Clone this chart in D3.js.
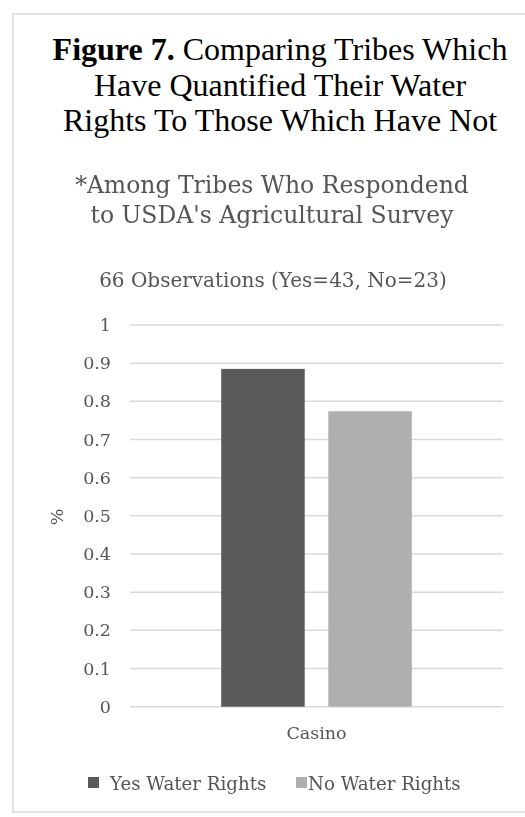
<!DOCTYPE html>
<html>
<head>
<meta charset="utf-8">
<script src="https://cdn.jsdelivr.net/npm/d3@7"></script>
<style>
  html, body { margin: 0; padding: 0; background: #fff; }
  svg { display: block; }
  svg text { font-family: "Liberation Serif", "Times New Roman", serif; }
  svg .body-text text, svg text.body-text { font-family: "DejaVu Serif", "Liberation Serif", serif; }
</style>
</head>
<body>
<svg id="chart" width="525" height="817"></svg>
<script>
// Chart data
const categories = ["Casino"];
const seriesNames = ["Yes Water Rights", "No Water Rights"];
const yesValues = [0.885];
const noValues = [0.774];
const yTicks = [0, 0.1, 0.2, 0.3, 0.4, 0.5, 0.6, 0.7, 0.8, 0.9, 1];
const titleLines = ["Comparing Tribes Which", "Have Quantified Their Water", "Rights To Those Which Have Not"];
const subtitleLines = ["*Among Tribes Who Respondend", "to USDA's Agricultural Survey"];
const obsLabel = "66 Observations (Yes=43, No=23)";

const seriesColors = ["#5a5a5a", "#afafaf"];
const grey = "#555555";

const svg = d3.select("#chart");

// soft focus used on the chart body
const defs = svg.append("defs");
defs.append("filter").attr("id", "soft")
  .append("feGaussianBlur").attr("stdDeviation", 0.55);

// outer frame (open on the right)
svg.append("path")
  .attr("d", "M530,14 H13 V812 H530")
  .attr("fill", "none").attr("stroke", "#e3e3e3").attr("stroke-width", 2);

// title
const title = svg.append("g").attr("fill", "#000").attr("text-anchor", "middle");
const tl1 = title.append("text").attr("x", 280).attr("y", 60).attr("font-size", 32);
tl1.append("tspan").attr("font-weight", "bold").text("Figure 7.");
tl1.append("tspan").text(" " + titleLines[0]);
title.append("text").attr("x", 280).attr("y", 95.5).attr("font-size", 32).text(titleLines[1]);
title.append("text").attr("x", 280).attr("y", 131).attr("font-size", 32).text(titleLines[2]);

const body = svg.append("g").attr("class", "body-text").attr("filter", "url(#soft)");

// subtitle and observation count
body.selectAll("text.sub").data(subtitleLines).join("text")
  .attr("class", "sub")
  .attr("x", 272).attr("y", (d, i) => 193 + i * 30)
  .attr("text-anchor", "middle")
  .attr("font-size", 23.5).attr("fill", grey)
  .text(d => d);

body.append("text")
  .attr("x", 273).attr("y", 287)
  .attr("text-anchor", "middle")
  .attr("font-size", 20).attr("fill", grey)
  .text(obsLabel);

// scales
const plot = { left: 130, right: 503, top: 325, bottom: 706.7 };
const y = d3.scaleLinear().domain([0, 1]).range([plot.bottom, plot.top]);
const x0 = d3.scaleBand().domain(categories).range([plot.left, plot.right]).paddingInner(0.3236).paddingOuter(0.3236);
const x1 = d3.scaleBand().domain(seriesNames).range([0, x0.bandwidth()]).paddingInner(0.22).paddingOuter(0);

// gridlines
body.append("g")
  .selectAll("line").data(yTicks).join("line")
  .attr("x1", plot.left).attr("x2", plot.right)
  .attr("y1", d => y(d)).attr("y2", d => y(d))
  .attr("stroke", "#d9d9d9").attr("stroke-width", 1.5);

// y axis labels
const yAxis = d3.axisLeft(y).tickValues(yTicks).tickFormat(d3.format("")).tickSize(0).tickPadding(0);
const yg = body.append("g").attr("transform", `translate(111,0)`).call(yAxis);
yg.select(".domain").remove();
yg.attr("font-family", null);
yg.selectAll("text").attr("font-size", 17.5).attr("fill", grey).attr("dy", "0.32em");

// y axis title
body.append("text")
  .attr("transform", "translate(57,517) rotate(-90)")
  .attr("text-anchor", "middle").attr("dy", "0.35em")
  .attr("font-size", 17.5).attr("fill", grey)
  .text("%");

// bars
const rows = categories.map((c, i) => ({ category: c, values: [yesValues[i], noValues[i]] }));
const groups = body.append("g").selectAll("g").data(rows).join("g")
  .attr("transform", d => `translate(${x0(d.category)},0)`);
groups.selectAll("rect")
  .data(d => d.values.map((v, j) => ({ name: seriesNames[j], value: v, color: seriesColors[j] })))
  .join("rect")
  .attr("x", d => x1(d.name))
  .attr("width", x1.bandwidth())
  .attr("y", d => y(d.value))
  .attr("height", d => y(0) - y(d.value))
  .attr("fill", d => d.color);

// x axis label
const xAxis = d3.axisBottom(x0).tickSize(0).tickPadding(0);
const xg = body.append("g").attr("transform", `translate(0,${plot.bottom})`).call(xAxis);
xg.select(".domain").remove();
xg.attr("font-family", null);
xg.selectAll("text").attr("font-size", 17.5).attr("fill", grey).attr("dy", "0").attr("y", 32);

// legend
const legendItems = [
  { name: seriesNames[0], color: seriesColors[0], sx: 88, tx: 110 },
  { name: seriesNames[1], color: seriesColors[1], sx: 296, tx: 308 }
];
const lg = body.append("g");
lg.selectAll("rect").data(legendItems).join("rect")
  .attr("x", d => d.sx).attr("y", 777).attr("width", 11).attr("height", 11)
  .attr("fill", d => d.color);
lg.selectAll("text").data(legendItems).join("text")
  .attr("x", d => d.tx).attr("y", 790)
  .attr("font-size", 18.2).attr("fill", grey)
  .text(d => d.name);
</script>
</body>
</html>
